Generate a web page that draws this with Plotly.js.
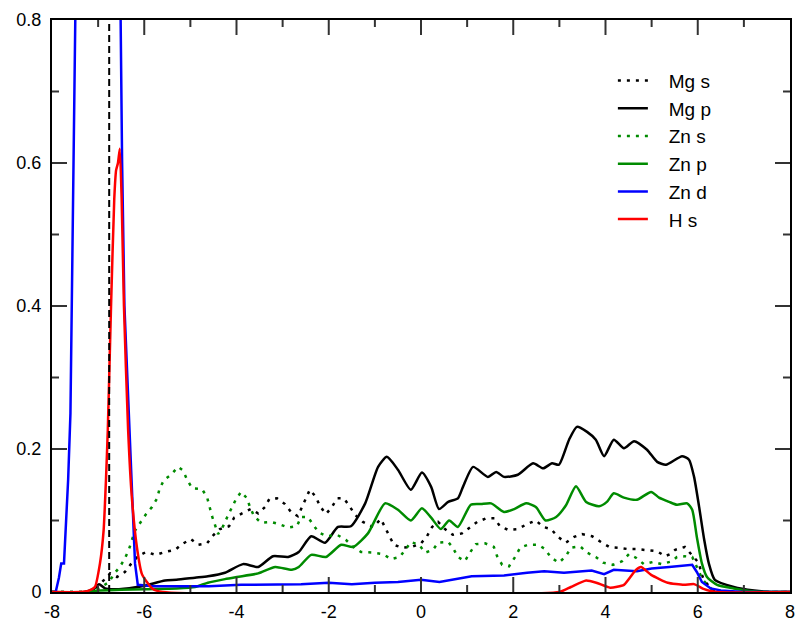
<!DOCTYPE html>
<html>
<head>
<meta charset="utf-8">
<script src="https://cdn.plot.ly/plotly-3.0.1.min.js"></script>
<style>html,body{margin:0;padding:0;background:#fff;}#chart{width:798px;height:619px;}</style>
</head>
<body>
<div id="chart"></div>
<script>
// ---- data ----
const seriesNames = ["Mg s", "Mg p", "Zn s", "Zn p", "Zn d", "H s"];

const mgS_x = [-8,-7.2,-7.0,-6.85,-6.74,-6.59,-6.42,-6.29,-6.14,-5.96,-5.75,-5.55,-5.33,-5.18,-4.99,-4.83,-4.64,-4.51,-4.36,-4.16,-4.05,-3.88,-3.69,-3.53,-3.38,-3.29,-3.12,-2.95,-2.82,-2.67,-2.58,-2.51,-2.41,-2.28,-2.19,-2.06,-1.93,-1.82,-1.67,-1.54,-1.43,-1.26,-1.04,-0.87,-0.78,-0.67,-0.59,-0.41,-0.2,0,0.13,0.24,0.37,0.52,0.69,0.89,1.06,1.22,1.41,1.6,1.71,1.89,2.1,2.3,2.49,2.65,2.82,2.97,3.14,3.32,3.49,3.71,3.9,4.08,4.27,4.49,4.68,4.9,5.12,5.29,5.4,5.51,5.72,5.91,6.03,6.07,6.13,6.3,6.5,8];
const mgS_y = [0,0,0.008,0.018,0.026,0.021,0.028,0.039,0.05,0.056,0.052,0.056,0.059,0.067,0.074,0.066,0.068,0.079,0.088,0.092,0.104,0.11,0.116,0.11,0.119,0.13,0.131,0.123,0.112,0.106,0.119,0.131,0.143,0.133,0.12,0.109,0.119,0.131,0.131,0.119,0.108,0.098,0.091,0.102,0.091,0.077,0.066,0.062,0.063,0.068,0.078,0.091,0.098,0.088,0.08,0.082,0.09,0.098,0.103,0.103,0.092,0.087,0.088,0.095,0.1,0.091,0.088,0.077,0.069,0.077,0.081,0.078,0.07,0.063,0.062,0.06,0.06,0.059,0.057,0.05,0.053,0.059,0.063,0.049,0.04,0.028,0.017,0.004,0,0];

const mgP_x = [-8,-7.3,-7.1,-6.98,-6.85,-6.55,-6.05,-5.55,-5.3,-4.9,-4.62,-4.25,-3.86,-3.53,-3.21,-2.88,-2.65,-2.38,-2.08,-1.8,-1.52,-1.21,-0.93,-0.74,-0.5,-0.22,0.02,0.22,0.39,0.59,0.8,0.91,1.13,1.45,1.63,1.8,2.1,2.43,2.65,2.84,2.99,3.21,3.38,3.6,3.79,3.97,4.18,4.4,4.62,4.9,5.12,5.31,5.66,5.81,5.92,6.03,6.14,6.24,6.37,6.78,7.22,7.6,8];
const mgP_y = [0,0,0.004,0.011,0.005,0.004,0.008,0.016,0.017,0.02,0.022,0.027,0.039,0.035,0.05,0.049,0.056,0.078,0.069,0.091,0.092,0.124,0.175,0.189,0.171,0.143,0.167,0.147,0.116,0.126,0.131,0.147,0.175,0.161,0.168,0.161,0.164,0.18,0.173,0.18,0.178,0.213,0.231,0.224,0.213,0.19,0.213,0.201,0.211,0.199,0.182,0.178,0.19,0.185,0.161,0.119,0.073,0.04,0.017,0.007,0.002,0,0];

const znS_x = [-8,-7.2,-6.98,-6.76,-6.66,-6.53,-6.42,-6.33,-6.2,-6.09,-5.96,-5.83,-5.72,-5.67,-5.57,-5.42,-5.27,-5.16,-5.07,-4.96,-4.75,-4.64,-4.59,-4.53,-4.4,-4.29,-4.2,-4.1,-4.01,-3.9,-3.77,-3.71,-3.62,-3.47,-3.25,-3.08,-2.88,-2.69,-2.6,-2.45,-2.34,-2.21,-2.04,-1.82,-1.63,-1.47,-1.3,-1.02,-0.82,-0.65,-0.46,-0.33,-0.22,-0.04,0.09,0.26,0.37,0.59,0.69,0.8,0.95,1.06,1.19,1.39,1.58,1.65,1.76,1.91,2.04,2.15,2.32,2.54,2.69,2.82,2.99,3.14,3.25,3.45,3.6,3.79,3.95,4.16,4.36,4.51,4.66,4.83,5.03,5.22,5.44,5.55,5.72,5.88,5.98,6.05,6.11,6.3,6.5,8];
const znS_y = [0,0,0.005,0.014,0.025,0.035,0.047,0.06,0.086,0.097,0.109,0.119,0.131,0.144,0.157,0.164,0.175,0.17,0.157,0.145,0.144,0.133,0.119,0.106,0.081,0.092,0.105,0.117,0.13,0.14,0.131,0.119,0.106,0.097,0.098,0.095,0.09,0.092,0.105,0.105,0.094,0.083,0.078,0.08,0.073,0.063,0.056,0.055,0.053,0.046,0.049,0.06,0.07,0.066,0.055,0.059,0.069,0.07,0.062,0.049,0.043,0.055,0.067,0.068,0.063,0.05,0.038,0.036,0.049,0.062,0.066,0.066,0.06,0.048,0.041,0.05,0.062,0.064,0.055,0.049,0.041,0.038,0.043,0.053,0.048,0.039,0.042,0.039,0.043,0.049,0.05,0.049,0.035,0.026,0.017,0.004,0,0];

const znP_x = [-8,-7.2,-7,-6.5,-6,-5.3,-4.9,-4.62,-4.25,-3.99,-3.53,-3.16,-2.8,-2.65,-2.38,-2.06,-1.73,-1.47,-1.15,-0.78,-0.5,-0.22,0.02,0.22,0.43,0.61,0.8,1.08,1.3,1.52,1.8,2.02,2.28,2.49,2.7,2.93,3.14,3.36,3.58,3.86,4.03,4.18,4.4,4.68,4.99,5.16,5.38,5.55,5.77,5.88,5.98,6.09,6.2,6.42,6.78,7.2,7.6,8];
const znP_y = [0,0,0.002,0.003,0.004,0.005,0.007,0.013,0.018,0.021,0.026,0.035,0.031,0.035,0.052,0.049,0.066,0.063,0.082,0.124,0.115,0.1,0.117,0.104,0.088,0.1,0.091,0.122,0.123,0.124,0.112,0.116,0.124,0.119,0.1,0.105,0.121,0.148,0.126,0.12,0.126,0.138,0.132,0.129,0.14,0.132,0.126,0.122,0.124,0.115,0.077,0.04,0.021,0.01,0.005,0.001,0,0];

const znD_x = [-8,-7.92,-7.85,-7.8,-7.74,-7.7,-7.65,-7.6,-7.57,-7.53,-7.49,-7.4,-7.2,-7.0,-6.8,-6.6,-6.52,-6.48,-6.43,-6.33,-6.26,-6.2,-6.14,-5.8,-5.3,-4.6,-3.9,-3.0,-2.6,-2.0,-1.5,-1.0,-0.5,0,0.4,1.1,1.8,2.3,2.67,3.1,3.5,3.7,3.97,4.18,4.68,5.0,5.38,5.88,5.98,6.09,6.28,6.5,7,8];
const znD_y = [0,0,0.02,0.04,0.04,0.09,0.157,0.25,0.4,0.6,0.85,1.3,1.6,1.7,1.6,1.2,0.85,0.6,0.4,0.227,0.133,0.04,0.01,0.008,0.008,0.008,0.01,0.01,0.011,0.013,0.011,0.013,0.014,0.017,0.014,0.022,0.023,0.027,0.029,0.027,0.029,0.03,0.025,0.031,0.029,0.033,0.035,0.038,0.028,0.014,0.005,0.002,0,0];

const hS_x = [-8,-7.4,-7.2,-7.07,-6.96,-6.88,-6.83,-6.79,-6.72,-6.65,-6.61,-6.57,-6.53,-6.49,-6.44,-6.35,-6.27,-6.16,-6.05,-5.83,-5.6,3.0,3.25,3.58,3.8,4.1,4.4,4.66,4.77,4.99,5.35,5.7,5.92,6.14,6.4,8];
const hS_y = [0,0,0.002,0.007,0.04,0.087,0.157,0.227,0.4,0.55,0.59,0.6,0.62,0.55,0.4,0.227,0.133,0.063,0.025,0.005,0,0,0.007,0.016,0.013,0.006,0.01,0.031,0.035,0.024,0.013,0.01,0.011,0.004,0,0];

const refLineX = -6.76;   // dashed vertical reference line

const xRange = [-8, 8];
const yRange = [0, 0.8];
const xTickVals = [-8,-6,-4,-2,0,2,4,6,8];
const xTickText = ["-8","-6","-4","-2","0","2","4","6","8"];
const yTickVals = [0,0.2,0.4,0.6,0.8];
const yTickText = ["0","0.2","0.4","0.6","0.8"];
const xMinorVals = [-7,-5,-3,-1,1,3,5,7];
const yMinorVals = [0.1,0.3,0.5,0.7];

// ---- styles ----
const W = 798, H = 619;
const M = {l: 52, r: 8, t: 20, b: 27};
const PW = W - M.l - M.r, PH = H - M.t - M.b;
const MAJOR_LEN = 15, MINOR_LEN = 7;
const TICK_COLOR = "#333";
const GREEN = "rgb(0,139,0)";
const DOT = "3px,6px";
const FONT = "Liberation Sans, Arial, Helvetica, sans-serif";
const PAD = "\u00a0\u00a0\u00a0";   // gap between legend line sample and label

const traces = [
  {x: mgS_x, y: mgS_y, name: PAD + seriesNames[0], line: {color: "black", width: 2.5, dash: DOT}},
  {x: mgP_x, y: mgP_y, name: PAD + seriesNames[1], line: {color: "black", width: 2.5, shape: "spline", smoothing: 0.6}},
  {x: znS_x, y: znS_y, name: PAD + seriesNames[2], line: {color: GREEN, width: 2.5, dash: DOT}},
  {x: znP_x, y: znP_y, name: PAD + seriesNames[3], line: {color: GREEN, width: 2.5, shape: "spline", smoothing: 0.6}},
  {x: znD_x, y: znD_y, name: PAD + seriesNames[4], line: {color: "#0000ff", width: 2.5}},
  {x: hS_x, y: hS_y, name: PAD + seriesNames[5], line: {color: "#ff0000", width: 2.5, shape: "spline", smoothing: 0.5}}
].map(t => Object.assign({type: "scatter", mode: "lines", hoverinfo: "skip"}, t));

// inward tick marks on all four sides, placed on the axes' own scales
function xTicks(vals, len) {
  const f = len / PH, out = [];
  vals.forEach(v => {
    out.push({type: "line", xref: "x", yref: "paper", x0: v, x1: v, y0: 0, y1: f, line: {color: TICK_COLOR, width: 2}});
    out.push({type: "line", xref: "x", yref: "paper", x0: v, x1: v, y0: 1 - f, y1: 1, line: {color: TICK_COLOR, width: 2}});
  });
  return out;
}
function yTicks(vals, len) {
  const f = len / PW, out = [];
  vals.forEach(v => {
    out.push({type: "line", xref: "paper", yref: "y", x0: 0, x1: f, y0: v, y1: v, line: {color: TICK_COLOR, width: 2}});
    out.push({type: "line", xref: "paper", yref: "y", x0: 1 - f, x1: 1, y0: v, y1: v, line: {color: TICK_COLOR, width: 2}});
  });
  return out;
}

const shapes = [].concat(
  xTicks(xTickVals.slice(1, -1), MAJOR_LEN), xTicks(xMinorVals, MINOR_LEN),
  yTicks(yTickVals.slice(1, -1), MAJOR_LEN), yTicks(yMinorVals, MINOR_LEN),
  [{type: "line", xref: "x", yref: "paper", x0: refLineX, x1: refLineX, y0: 0, y1: 1,
    line: {color: "black", width: 2, dash: "7px,4px"}}]
);

function axisStyle(extra) {
  return Object.assign({
    showline: true, linecolor: "black", linewidth: 2, mirror: true,
    ticks: "", showgrid: false, zeroline: false, tickmode: "array",
    tickfont: {family: FONT, size: 18, color: "black"}
  }, extra);
}

const layout = {
  width: W, height: H,
  margin: M,
  paper_bgcolor: "white", plot_bgcolor: "white",
  font: {family: FONT, color: "black"},
  showlegend: true,
  legend: {
    x: 0.76, y: 0.927, xanchor: "left", yanchor: "top",
    bgcolor: "rgba(0,0,0,0)", borderwidth: 0,
    font: {family: FONT, size: 19, color: "black"}
  },
  xaxis: axisStyle({range: xRange, tickvals: xTickVals, ticktext: xTickText, ticklabelstandoff: 2}),
  yaxis: axisStyle({range: yRange, tickvals: yTickVals, ticktext: yTickText, ticklabelstandoff: 5}),
  shapes: shapes
};

Plotly.newPlot("chart", traces, layout, {displayModeBar: false});
</script>
</body>
</html>
